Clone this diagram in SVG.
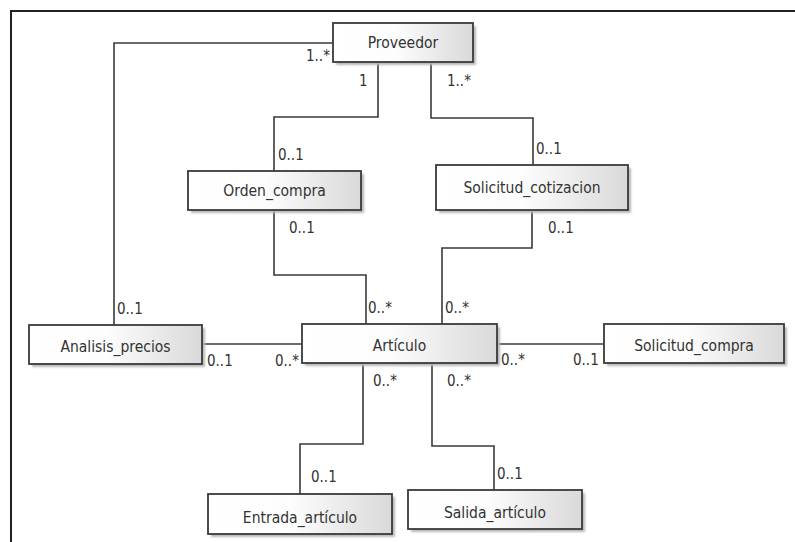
<svg xmlns="http://www.w3.org/2000/svg" width="795" height="542" viewBox="0 0 795 542">
  <defs>
    <linearGradient id="boxFill" x1="0" y1="0" x2="1" y2="0">
      <stop offset="0" stop-color="#ffffff"/>
      <stop offset="0.45" stop-color="#fdfdfd"/>
      <stop offset="1" stop-color="#d9d9d9"/>
    </linearGradient>
    <filter id="soft" x="-10%" y="-20%" width="120%" height="140%">
      <feGaussianBlur stdDeviation="0.8"/>
    </filter>
  </defs>
  <style>
    .shadow { fill: #b8b8b8; filter: url(#soft); }
    .box { fill: url(#boxFill); stroke: #3a3a3a; stroke-width: 1.8; }
    .name { font-family: "DejaVu Sans Condensed", "DejaVu Sans", sans-serif; font-size: 15.5px; fill: #333; text-anchor: middle; }
    .mult { font-family: "DejaVu Sans Condensed", "DejaVu Sans", sans-serif; font-size: 15px; fill: #333; }
    .link { fill: none; stroke: #3a3a3a; stroke-width: 1.6; }
    .frame { fill: none; stroke: #222; stroke-width: 2; }
  </style>
  <rect width="795" height="542" fill="#ffffff"/>

  <!-- canvas border -->
  <path class="frame" d="M11,542 V11 H795"/>

  <!-- associations -->
  <g id="connectors">
    <path class="link" d="M333,43 H114 V325"/>
    <path class="link" d="M378,62 V117 H274 V171"/>
    <path class="link" d="M431,62 V118 H533 V165"/>
    <path class="link" d="M274,210 V275 H366 V324"/>
    <path class="link" d="M532,210 V248 H442 V324"/>
    <path class="link" d="M202,344 H302"/>
    <path class="link" d="M497,344 H604"/>
    <path class="link" d="M363,363 V444 H300 V494"/>
    <path class="link" d="M432,363 V446 H494 V490"/>

    <!-- multiplicities -->
    <text class="mult" x="306" y="61">1..*</text>
    <text class="mult" x="359" y="86">1</text>
    <text class="mult" x="447" y="86">1..*</text>
    <text class="mult" x="278" y="160">0..1</text>
    <text class="mult" x="536" y="154">0..1</text>
    <text class="mult" x="289" y="233">0..1</text>
    <text class="mult" x="548" y="233">0..1</text>
    <text class="mult" x="368" y="313">0..*</text>
    <text class="mult" x="445" y="313">0..*</text>
    <text class="mult" x="117" y="314">0..1</text>
    <text class="mult" x="207" y="366">0..1</text>
    <text class="mult" x="275" y="366">0..*</text>
    <text class="mult" x="501" y="365">0..*</text>
    <text class="mult" x="573" y="365">0..1</text>
    <text class="mult" x="373" y="386">0..*</text>
    <text class="mult" x="447" y="386">0..*</text>
    <text class="mult" x="311" y="482">0..1</text>
    <text class="mult" x="497" y="479">0..1</text>
  </g>

  <!-- classes -->
  <g id="proveedor">
    <rect class="shadow" x="336" y="26" width="140" height="39"/>
    <rect class="box" x="333" y="23" width="140" height="39"/>
    <text class="name" x="403" y="48">Proveedor</text>
  </g>
  <g id="orden_compra">
    <rect class="shadow" x="191" y="174" width="173" height="39"/>
    <rect class="box" x="188" y="171" width="173" height="39"/>
    <text class="name" x="274.5" y="196">Orden_compra</text>
  </g>
  <g id="solicitud_cotizacion">
    <rect class="shadow" x="439" y="168" width="192" height="45"/>
    <rect class="box" x="436" y="165" width="192" height="45"/>
    <text class="name" x="532" y="193">Solicitud_cotizacion</text>
  </g>
  <g id="analisis_precios">
    <rect class="shadow" x="32" y="328" width="173" height="39"/>
    <rect class="box" x="29" y="325" width="173" height="39"/>
    <text class="name" x="115.5" y="352">Analisis_precios</text>
  </g>
  <g id="articulo">
    <rect class="shadow" x="305" y="327" width="195" height="39"/>
    <rect class="box" x="302" y="324" width="195" height="39"/>
    <text class="name" x="399.5" y="351">Artículo</text>
  </g>
  <g id="solicitud_compra">
    <rect class="shadow" x="607" y="327" width="180" height="39"/>
    <rect class="box" x="604" y="324" width="180" height="39"/>
    <text class="name" x="694" y="351">Solicitud_compra</text>
  </g>
  <g id="entrada_articulo">
    <rect class="shadow" x="211" y="497" width="184" height="40"/>
    <rect class="box" x="208" y="494" width="184" height="40"/>
    <text class="name" x="300" y="523">Entrada_artículo</text>
  </g>
  <g id="salida_articulo">
    <rect class="shadow" x="411" y="493" width="174" height="39"/>
    <rect class="box" x="408" y="490" width="174" height="39"/>
    <text class="name" x="495" y="518">Salida_artículo</text>
  </g>
</svg>
